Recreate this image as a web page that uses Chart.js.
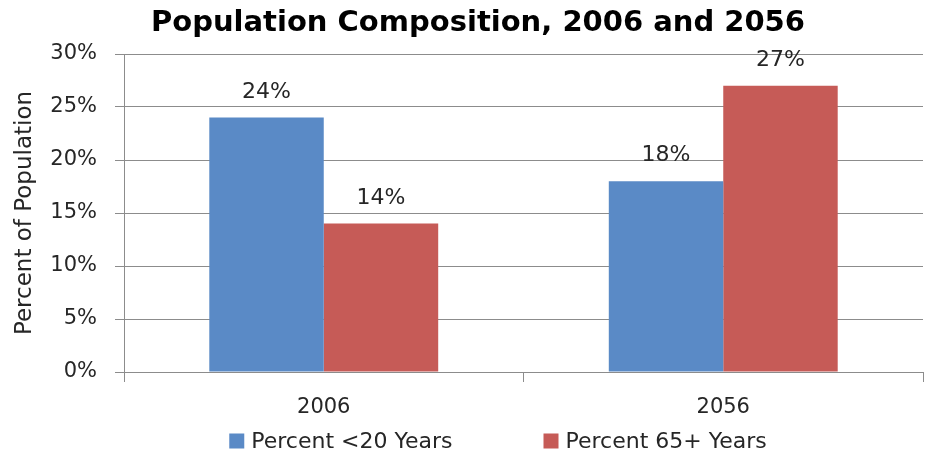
<!DOCTYPE html>
<html>
<head>
<meta charset="utf-8">
<script src="https://cdn.jsdelivr.net/npm/chart.js@4/dist/chart.umd.min.js"></script>
<style>
  html, body { margin: 0; padding: 0; background: #fff; }
  #chart { display: block; }
</style>
</head>
<body>
<canvas id="chart" width="930" height="454"></canvas>
<script>
// chart data
const titleText = 'Population Composition, 2006 and 2056';
const categories = ['2006', '2056'];
const seriesNames = ['Percent <20 Years', 'Percent 65+ Years'];
const under20 = [24, 18];
const over65 = [14, 27];
const yMax = 30;
const yStep = 5;

const FONT = '"DejaVu Sans", sans-serif';
const TEXT = '#262626';
const GRID = '#8c8c8c';

// title sits a bit right of the canvas centre, like the original
const topTitle = {
  id: 'topTitle',
  afterDraw(chart) {
    const ctx = chart.ctx;
    ctx.save();
    ctx.font = 'bold 29px ' + FONT;
    ctx.fillStyle = '#000';
    ctx.textAlign = 'center';
    ctx.textBaseline = 'alphabetic';
    ctx.fillText(titleText, 478, 31);
    ctx.restore();
  }
};

// value labels above each bar
const barLabels = {
  id: 'barLabels',
  afterDatasetsDraw(chart) {
    const ctx = chart.ctx;
    ctx.save();
    ctx.font = '22px ' + FONT;
    ctx.fillStyle = TEXT;
    ctx.textAlign = 'center';
    ctx.textBaseline = 'alphabetic';
    chart.data.datasets.forEach((ds, i) => {
      chart.getDatasetMeta(i).data.forEach((bar, j) => {
        ctx.fillText(ds.data[j] + '%', bar.x, bar.y - 20);
      });
    });
    ctx.restore();
  }
};

// legend drawn under the axis, square swatch + name
const bottomLegend = {
  id: 'bottomLegend',
  afterDraw(chart) {
    const ctx = chart.ctx;
    const box = 15, gapText = 7, gapItem = 91, cy = 441, cx = 498;
    ctx.save();
    ctx.font = '22px ' + FONT;
    ctx.textBaseline = 'middle';
    const items = chart.data.datasets.map(ds => ({
      text: ds.label, color: ds.backgroundColor, w: ctx.measureText(ds.label).width
    }));
    const total = items.reduce((s, it) => s + box + gapText + it.w, 0) + gapItem * (items.length - 1);
    let x = cx - total / 2;
    items.forEach(it => {
      ctx.fillStyle = it.color;
      ctx.fillRect(x, cy - box / 2, box, box);
      ctx.fillStyle = TEXT;
      ctx.fillText(it.text, x + box + gapText, cy + 1);
      x += box + gapText + it.w + gapItem;
    });
    ctx.restore();
  }
};

new Chart(document.getElementById('chart'), {
  type: 'bar',
  data: {
    labels: categories,
    datasets: [
      { label: seriesNames[0], data: under20, backgroundColor: '#5a8ac6' },
      { label: seriesNames[1], data: over65, backgroundColor: '#c65b57' }
    ]
  },
  options: {
    responsive: false,
    animation: false,
    layout: { padding: { left: 0, right: 7, top: 54, bottom: 32 } },
    datasets: { bar: { categoryPercentage: 0.573, barPercentage: 1 } },
    plugins: {
      legend: { display: false },
      tooltip: { enabled: false },
      title: { display: false }
    },
    scales: {
      x: {
        afterFit(scale) { scale.height = 50; },
        border: { color: GRID },
        grid: { drawOnChartArea: false, color: GRID, tickLength: 10, offset: true },
        ticks: { color: TEXT, font: { family: FONT, size: 21 }, padding: 13 }
      },
      y: {
        min: 0,
        max: yMax,
        afterFit(scale) { scale.width = 124; },
        border: { color: GRID },
        grid: { color: GRID, tickLength: 9 },
        ticks: {
          stepSize: yStep,
          color: TEXT,
          padding: 18,
          font: { family: FONT, size: 21 },
          callback: v => v + '%'
        },
        title: {
          display: true,
          text: 'Percent of Population',
          color: TEXT,
          font: { family: FONT, size: 23 },
          padding: { top: 11, bottom: 0 }
        }
      }
    }
  },
  plugins: [topTitle, barLabels, bottomLegend]
});
</script>
</body>
</html>
